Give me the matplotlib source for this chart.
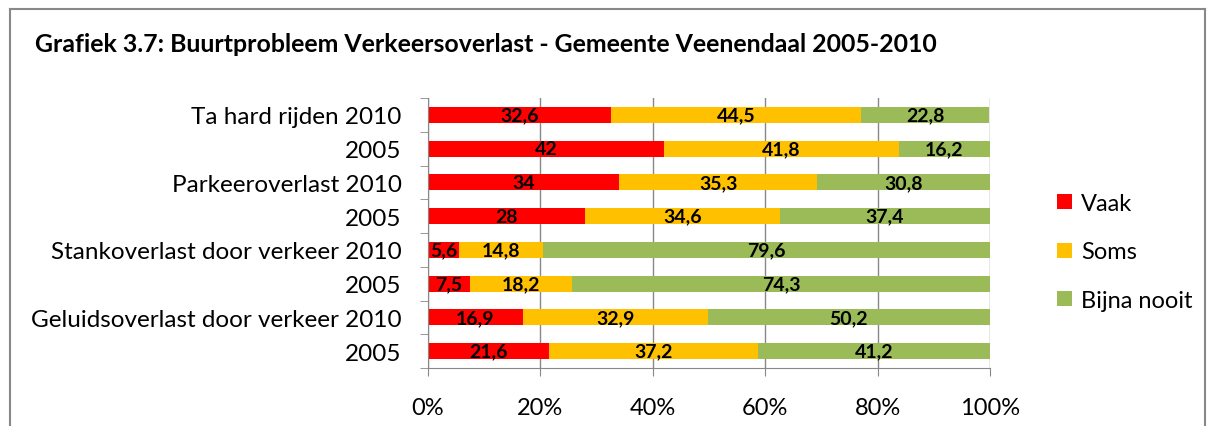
import matplotlib
matplotlib.use("Agg")
import matplotlib.pyplot as plt
import matplotlib.lines as mlines
import numpy as np

plt.rcParams["font.family"] = ["Lato", "DejaVu Sans"]

CATEGORIES = [
    "Ta hard rijden 2010", "2005",
    "Parkeeroverlast 2010", "2005",
    "Stankoverlast door verkeer 2010", "2005",
    "Geluidsoverlast door verkeer 2010", "2005",
]
VAAK = [32.6, 42, 34, 28, 5.6, 7.5, 16.9, 21.6]
SOMS = [44.5, 41.8, 35.3, 34.6, 14.8, 18.2, 32.9, 37.2]
BIJNA_NOOIT = [22.8, 16.2, 30.8, 37.4, 79.6, 74.3, 50.2, 41.2]
SERIES = ["Vaak", "Soms", "Bijna nooit"]
COLORS = ["#FF0000", "#FFC000", "#9BBB59"]
XTICKS = [0, 20, 40, 60, 80, 100]

fig = plt.figure(figsize=(12.15, 4.27), dpi=100)
ax = fig.add_axes([428 / 1215, 1 - 369 / 427, 562 / 1215, 270 / 427])

# outer frame (bottom edge cut off in the original)
frame = dict(color="#888888", linewidth=1.5, transform=fig.transFigure)
fig.add_artist(mlines.Line2D([10 / 1215, 10 / 1215], [0, 1 - 10 / 427], **frame))
fig.add_artist(mlines.Line2D([10 / 1215, 1205 / 1215], [1 - 10 / 427, 1 - 10 / 427], **frame))
fig.add_artist(mlines.Line2D([1205 / 1215, 1205 / 1215], [0, 1 - 10 / 427], **frame))

y = np.arange(len(CATEGORIES))
left = np.zeros(len(CATEGORIES))
for vals, name, col in zip([VAAK, SOMS, BIJNA_NOOIT], SERIES, COLORS):
    vals = np.array(vals)
    bars = ax.barh(y, vals, left=left, height=0.48, color=col, label=name, zorder=2)
    ax.bar_label(bars, labels=[f"{v:g}".replace(".", ",") for v in vals],
                 label_type="center", fontsize=14, fontweight="bold", color="black")
    left += vals

ax.set_ylim(len(CATEGORIES) - 0.5, -0.5)
ax.set_xlim(0, 100)
ax.set_yticks(y)
ax.set_yticklabels(CATEGORIES, fontsize=17.5)
ax.set_yticks(np.arange(len(CATEGORIES) + 1) - 0.5, minor=True)
ax.tick_params(axis="y", which="major", length=0, pad=19)
ax.tick_params(axis="y", which="minor", length=6, color="#888888", direction="out")
ax.set_xticks(XTICKS)
ax.set_xticklabels([f"{t}%" for t in XTICKS], fontsize=17)
ax.tick_params(axis="x", length=6, color="#888888", pad=15)
ax.grid(axis="x", color="#888888", linewidth=1, zorder=0)
ax.set_axisbelow(True)
for side in ["top", "right"]:
    ax.spines[side].set_visible(False)
for side in ["left", "bottom"]:
    ax.spines[side].set_color("#888888")

fig.text(35 / 1215, 1 - 45 / 427, "Grafiek 3.7: Buurtprobleem Verkeersoverlast - Gemeente Veenendaal 2005-2010",
         fontsize=17.9, fontweight="bold", va="center", ha="left")

ax.legend(loc="center left", bbox_to_anchor=(1.12, 0.43), frameon=False, fontsize=17,
          borderaxespad=0, borderpad=0,
          handlelength=0.6, handleheight=0.6, handletextpad=0.4, labelspacing=1.15)

fig.savefig("out.png", dpi=100)
